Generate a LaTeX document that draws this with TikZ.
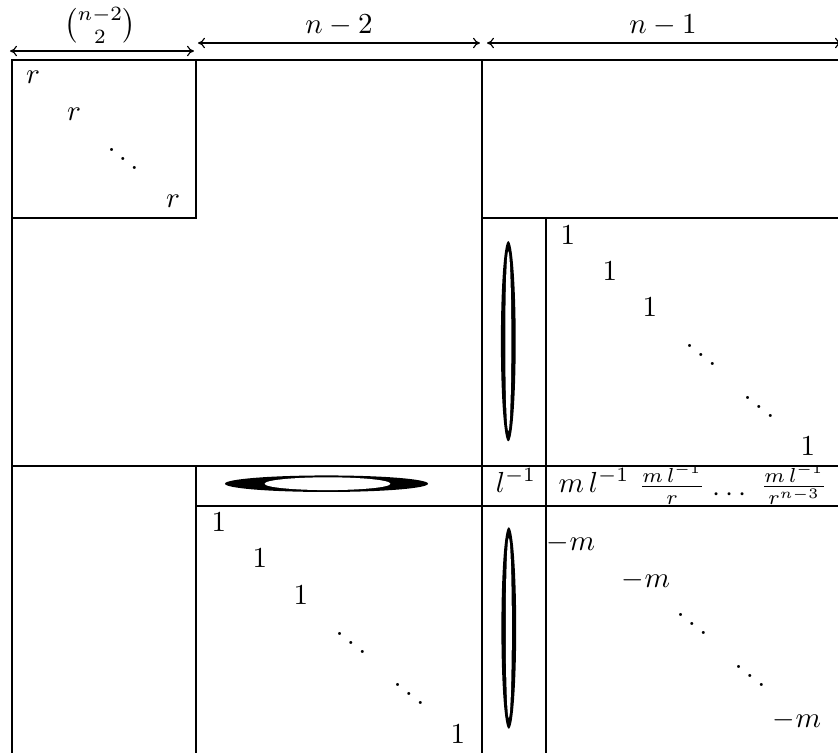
\documentclass[tikz,border=0pt]{standalone}
\usepackage{amsmath}
\usetikzlibrary{arrows.meta}
\begin{document}
\begin{tikzpicture}[x=0.3448pt, y=-0.3448pt,
  gridline/.style={line width=1pt, line cap=rect},
  dim/.style={line width=0.4pt, {Computer Modern Rightarrow[length=2.4pt, width=3.6pt]}-{Computer Modern Rightarrow[length=2.4pt, width=3.6pt]}},
  ent/.style={inner sep=0pt, anchor=base},
  lab/.style={inner sep=0pt, anchor=base},
]
\useasboundingbox (0,0) rectangle (838,753);
\clip (0,0) rectangle (838,753);

% dimension arrows
\coordinate (d0) at (10,51);
\coordinate (d1) at (194,51);
\coordinate (d2) at (198,43);
\coordinate (d3) at (480,43);
\coordinate (d4) at (487,43);
\coordinate (d5) at (842,43);
\draw[dim] (d0) -- (d1);
\draw[dim] (d2) -- (d3);
\draw[dim] (d4) -- (d5);
\node[inner sep=0pt, anchor=center] (lb0) at (100,25.5) {$\binom{n-2}{2}$};
\node[lab] (lb1) at (339,33) {$n-2$};
\node[lab] (lb2) at (663,33) {$n-1$};

% grid
\draw[gridline] (12,60) -- (840,60);
\draw[gridline] (12,60) -- (12,756);
\draw[gridline] (196,60) -- (196,218);
\draw[gridline] (12,218) -- (196,218);
\draw[gridline] (482,60) -- (482,756);
\draw[gridline] (482,218) -- (840,218);
\draw[gridline] (546,218) -- (546,756);
\draw[gridline] (12,466) -- (840,466);
\draw[gridline] (196,466) -- (196,756);
\draw[gridline] (196,506) -- (840,506);

% top-left block
\node[ent] (r1) at (33,83) {$r$};
\node[ent] (r2) at (74,120) {$r$};
\node[ent] (rd) at (123,172) {$\ddots$};
\node[ent] (r3) at (173,207) {$r$};

% upper right identity
\node[ent] (a1) at (568,244) {$1$};
\node[ent] (a2) at (610,280) {$1$};
\node[ent] (a3) at (650,316) {$1$};
\node[ent] (ad1) at (701,368) {$\ddots$};
\node[ent] (ad2) at (759,420) {$\ddots$};
\node[ent] (a4) at (808,455) {$1$};

% ellipses
\fill (508.3,341.2) ellipse [x radius=2.55pt, y radius=34.5pt];
\fill[white] (508.3,341.2) ellipse [x radius=1.05pt, y radius=31pt];
\fill (326.5,483.7) ellipse [x radius=35pt, y radius=2.85pt];
\fill[white] (327.5,483.7) ellipse [x radius=21.7pt, y radius=2.2pt];
\fill (508.8,628) ellipse [x radius=2.55pt, y radius=34.7pt];
\fill[white] (508.8,628) ellipse [x radius=1.05pt, y radius=31pt];

% row
\node[ent] (l1) at (516,492) {$l^{-1}$};
\node[ent] (ml) at (594,492) {$m\,l^{-1}$};
\begin{scope}
\clip (546,466) rectangle (840,506);
\node[ent] (f1) at (672,494) {$\frac{m\,l^{-1}}{r}$};
\node[ent] (cd) at (732,501) {$\cdots$};
\node[ent] (f2) at (794,494) {$\frac{m\,l^{-1}}{r^{n-3}}$};
\end{scope}

% bottom middle identity
\node[ent] (b1) at (219,531) {$1$};
\node[ent] (b2) at (260,567) {$1$};
\node[ent] (b3) at (301,604) {$1$};
\node[ent] (bd1) at (351,656) {$\ddots$};
\node[ent] (bd2) at (409,707) {$\ddots$};
\node[ent] (b4) at (458,743) {$1$};

% bottom right
\node[ent] (c1) at (571,550) {$-m$};
\node[ent] (c2) at (646,587) {$-m$};
\node[ent] (cd1) at (692,637) {$\ddots$};
\node[ent] (cd2) at (750,689) {$\ddots$};
\node[ent] (c3) at (797,727) {$-m$};
\end{tikzpicture}
\end{document}
